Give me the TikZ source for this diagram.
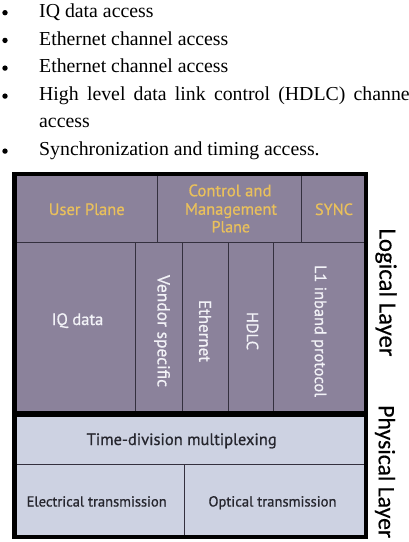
\documentclass[tikz,border=0pt]{standalone}
\usepackage{fontspec}
\usepackage{graphicx}
\setmainfont{Liberation Serif}
\newfontfamily\boxfont[FakeBold=0.7]{PT Sans}
\newfontfamily\sidefont[FakeBold=0.3]{Carlito}
\definecolor{logfill}{RGB}{139,130,155}
\definecolor{phyfill}{RGB}{205,210,226}
\definecolor{goldtext}{RGB}{233,192,92}
\definecolor{cellline}{RGB}{52,48,62}
\definecolor{phytext}{RGB}{38,38,46}
\definecolor{logtext}{RGB}{242,242,247}
\newcommand\fitto[2]{\resizebox{#1pt}{!}{#2}}
\begin{document}
\begin{tikzpicture}[x=1pt,y=-1pt,
  bullettext/.style={anchor=base west,inner sep=0pt,font=\fontsize{19.8}{24}\selectfont},
  bulletdot/.style={circle,fill=black,inner sep=0pt,minimum size=5.4pt},
  celltext/.style={inner sep=0pt,font=\boxfont},
  planetext/.style={celltext,text=goldtext,anchor=base},
  logicaltext/.style={celltext,text=logtext},
  physicaltext/.style={celltext,text=phytext,anchor=base},
  sidetext/.style={inner sep=0pt,font=\sidefont,text=black,rotate=-90},
  thin/.style={draw=cellline,line width=0.9pt},
  frame/.style={draw=black,line width=4.3pt}]
\useasboundingbox (0,0) rectangle (408,542);
\fill[white] (0,0) rectangle (408,542);

% bullet list
\node[bullettext] (b1) at (39,17.3) {IQ data access};
\node[bullettext] (b2) at (39,45) {Ethernet channel access};
\node[bullettext] (b3) at (39,72.7) {Ethernet channel access};
\node[bullettext] (b4) at (39,100.7) {\makebox[376pt][s]{High level data link control (HDLC) channel}};
\node[bullettext] (b5) at (39,127.3) {access};
\node[bullettext] (b6) at (39,155.7) {Synchronization and timing access.};
\foreach \y [count=\i] in {12.7,40.4,68.1,96.1,151.1}
  \node[bulletdot] (d\i) at (5,\y) {};

% fills
\fill[logfill] (16.5,176) rectangle (364,413);
\fill[phyfill] (16.5,414) rectangle (364,535);

% cell lines
\coordinate (r1l) at (16.5,242.7); \coordinate (r1r) at (364,242.7);
\draw[thin] (r1l) -- (r1r);
\foreach \x in {157.3,301.7} \draw[thin] (\x,176) -- (\x,242.7);
\foreach \x in {135,182.3,228.3,273.3} \draw[thin] (\x,242.7) -- (\x,412);
\coordinate (r3l) at (16.5,464.5); \coordinate (r3r) at (364,464.5);
\draw[thin] (r3l) -- (r3r);
\draw[thin] (184.3,464.5) -- (184.3,535);

% separator and frame
\coordinate (sepl) at (14.5,413.7); \coordinate (sepr) at (366.2,413.7);
\draw[black,line width=6pt] (sepl) -- (sepr);
\draw[frame] (14.5,173.8) rectangle (366.2,537.2);

% top row
\node[planetext] (user) at (86.7,215) {\fitto{76}{User Plane}};
\node[planetext] (ctrl1) at (230,196.3) {\fitto{83}{Control and}};
\node[planetext] (ctrl2) at (231,214.7) {\fitto{92}{Management}};
\node[planetext] (ctrl3) at (230.8,232.3) {\fitto{38.5}{Plane}};
\node[planetext] (sync) at (334,215) {\fitto{38}{SYNC}};

% second row
\node[logicaltext,anchor=base] (iq) at (77.5,325) {\fitto{51.6}{IQ data}};
\node[logicaltext,rotate=-90] (vendor) at (162,331) {\fitto{112}{Vendor specific}};
\node[logicaltext,rotate=-90] (eth) at (205,331) {\fitto{62}{Ethernet}};
\node[logicaltext,rotate=-90] (hdlc) at (252.5,331) {\fitto{38}{HDLC}};
\node[logicaltext,rotate=-90] (l1) at (319,331) {\fitto{132}{L1 inband protocol}};

% physical layer
\node[physicaltext] (tdm) at (181.7,445) {\fitto{190}{Time-division multiplexing}};
\node[physicaltext] (elec) at (96.7,506.5) {\fitto{140}{Electrical transmission}};
\node[physicaltext] (opt) at (272.5,506.5) {\fitto{128}{Optical transmission}};

% side labels
\node[sidetext] (logical) at (386,292.5) {\fitto{128}{Logical Layer}};
\node[sidetext] (physical) at (385,471.7) {\fitto{133}{Physical Layer}};
\end{tikzpicture}
\end{document}
